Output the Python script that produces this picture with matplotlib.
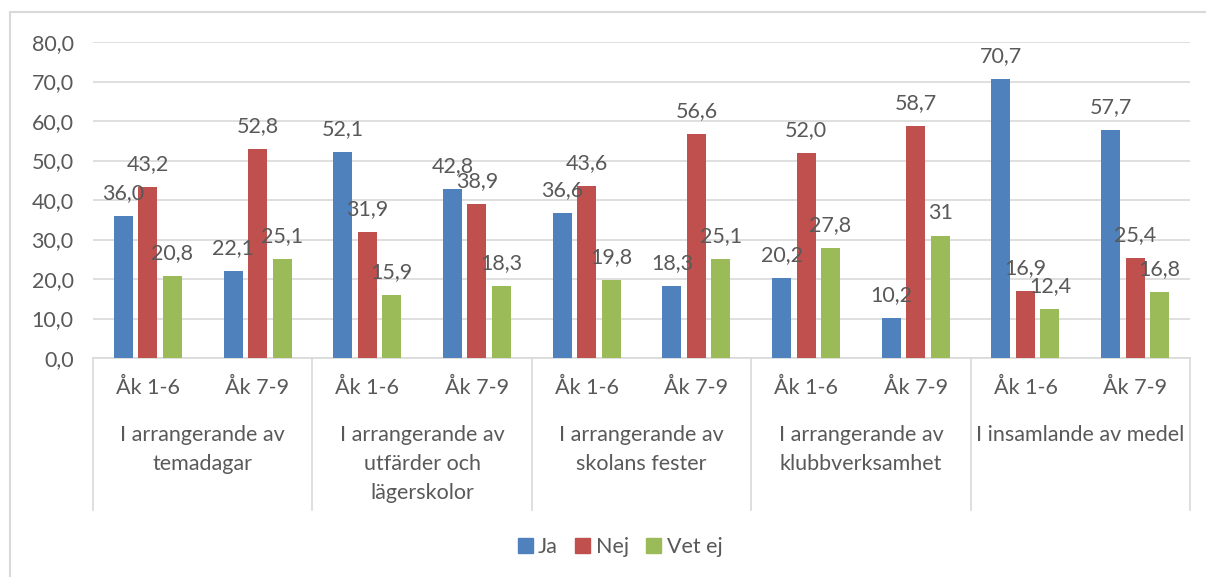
import matplotlib.pyplot as plt
from matplotlib.lines import Line2D
from matplotlib.patches import Patch

# Andel svar per aktivitet och årskurs
groups = ['I arrangerande av\ntemadagar',
          'I arrangerande av\nutfärder och\nlägerskolor',
          'I arrangerande av\nskolans fester',
          'I arrangerande av\nklubbverksamhet',
          'I insamlande av medel']
grades = ['Åk 1-6', 'Åk 7-9']

ja = [36.0, 22.1, 52.1, 42.8, 36.6, 18.3, 20.2, 10.2, 70.7, 57.7]
nej = [43.2, 52.8, 31.9, 38.9, 43.6, 56.6, 52.0, 58.7, 16.9, 25.4]
vet_ej = [20.8, 25.1, 15.9, 18.3, 19.8, 25.1, 27.8, 31, 12.4, 16.8]

series = [('Ja', ja, '#4F81BD'), ('Nej', nej, '#C0504D'), ('Vet ej', vet_ej, '#9BBB59')]

txt = '#595959'
grid = '#D9D9D9'
plt.rcParams['font.family'] = ['Lato', 'DejaVu Sans']
fs = 15.5


def fmt(v):
    # heltal skrivs utan decimal, övriga med en decimal och komma
    if isinstance(v, int):
        return str(v)
    return f'{v:.1f}'.replace('.', ',')


W, H = 1206, 577
fig = plt.figure(figsize=(W / 100, H / 100), dpi=100)
x0, x1, ytop, ybot = 93, 1190, 42, 358
ax = fig.add_axes([x0 / W, 1 - ybot / H, (x1 - x0) / W, (ybot - ytop) / H])

n = len(ja)
xs = list(range(n))
width = 0.173
step = 0.223
for k, (name, vals, col) in enumerate(series):
    off = (k - 1) * step
    pos = [x + off for x in xs]
    ax.bar(pos, vals, width=width, color=col, zorder=3)
    for p, v in zip(pos, vals):
        ax.annotate(fmt(v), (p, v), xytext=(0, 12.2), textcoords='offset points',
                    ha='center', va='baseline', fontsize=fs, color=txt, zorder=4)

ax.set_xlim(-0.5, n - 0.5)
ax.set_ylim(0, 80)
ax.set_yticks(range(0, 81, 10))
ax.set_yticklabels([f'{t},0' for t in range(0, 81, 10)], fontsize=fs, color=txt)
ax.tick_params(axis='y', length=0, pad=14)
ax.set_xticks([])
ax.grid(axis='y', color=grid, linewidth=1.2, zorder=0)
for s in ['left', 'right', 'top']:
    ax.spines[s].set_visible(False)
ax.spines['bottom'].set_color(grid)
ax.spines['bottom'].set_linewidth(1.2)

# kategoriaxel i två nivåer
axh = ybot - ytop


def ax_y(ypx):
    return (ybot - ypx) / axh


tr = ax.get_xaxis_transform()
for i in range(n):
    ax.text(i, ax_y(388), grades[i % 2], transform=tr, ha='center', va='center',
            fontsize=fs, color=txt)
for g, label in enumerate(groups):
    ax.text(2 * g + 0.5, ax_y(425), label, transform=tr, ha='center', va='top',
            fontsize=fs, color=txt, linespacing=1.55)
for b in range(0, n + 1, 2):
    ax.add_line(Line2D([b - 0.5, b - 0.5], [0, ax_y(510)], transform=tr,
                       color=grid, linewidth=1.2, clip_on=False))

handles = [Patch(color=c, label=nm) for nm, _, c in series]
fig.legend(handles=handles, loc='center', bbox_to_anchor=(620 / W, 1 - 547 / H),
           ncol=3, frameon=False, fontsize=fs, labelcolor=txt,
           handlelength=0.7, handleheight=0.7, handletextpad=0.25, columnspacing=0.8)

# ram runt diagrammet
fig.add_artist(Line2D([10 / W, 10 / W], [0, 1 - 12 / H], color=grid, linewidth=1.5))
fig.add_artist(Line2D([10 / W, 1], [1 - 12 / H, 1 - 12 / H], color=grid, linewidth=1.5))

fig.savefig('out.png', dpi=100, facecolor='white')
